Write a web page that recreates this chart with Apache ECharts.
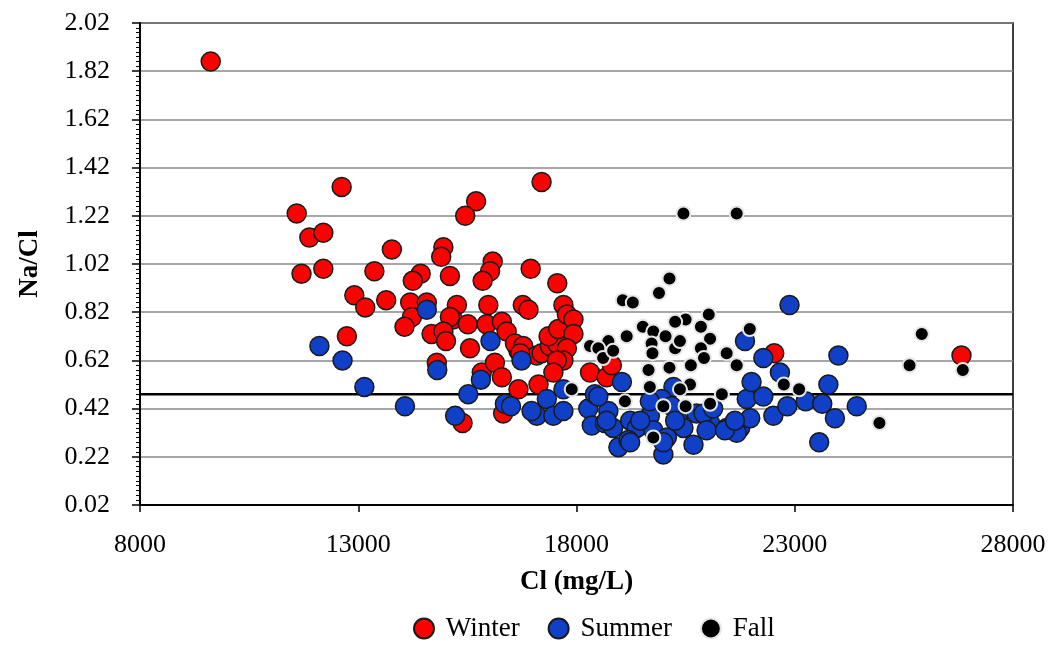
<!DOCTYPE html>
<html>
<head>
<meta charset="utf-8">
<script src="https://cdn.jsdelivr.net/npm/echarts@6/dist/echarts.min.js"></script>
<style>
html,body{margin:0;padding:0;background:#fff;}
#chart{width:1059px;height:645px;}
</style>
</head>
<body>
<div id="chart"></div>
<script>
// ---- data ----
const winterCl = [9620,12620,17200,11590,15700,15450,11880,12200,11700,12200,13770,13370,14950,14900,15100,14430,14250,16080,16020,15850,16950,17560,12910,13160,13640,14190,14570,14230,14060,15260,15170,15100,14680,14950,15010,15510,15560,15980,15940,16290,16400,16630,16670,16590,16780,16770,16900,17090,17200,17390,17550,17360,17580,17700,17780,17930,17930,17780,17700,17550,12740,14800,15390,15830,16130,16290,16670,16320,17130,17470,18310,18690,18810,22530,26820,16710];
const winterNaCl = [1.86,1.34,1.36,1.23,1.28,1.22,1.13,1.15,0.98,1.00,1.08,0.99,1.09,1.05,0.97,0.98,0.95,1.03,0.99,0.95,1.00,0.94,0.89,0.84,0.87,0.86,0.86,0.80,0.76,0.85,0.79,0.80,0.73,0.74,0.70,0.77,0.67,0.85,0.77,0.78,0.74,0.68,0.66,0.69,0.68,0.85,0.83,0.64,0.65,0.68,0.69,0.72,0.75,0.85,0.81,0.79,0.73,0.67,0.62,0.62,0.72,0.61,0.36,0.57,0.61,0.55,0.50,0.40,0.52,0.57,0.57,0.55,0.60,0.65,0.64,0.65];

const summerCl = [14570,16030,12110,12640,13140,14070,14810,15220,15520,15810,16740,16360,16500,17090,17320,17470,17700,16970,17700,18270,18350,18420,19040,18650,18730,18840,18960,19230,19380,19190,19680,19760,19990,20070,20220,20330,20450,20680,20750,21060,21440,21750,21980,21900,22280,22510,22280,21860,22010,20910,19950,20180,22880,22660,22830,23250,23630,23920,24420,24000,23770,23560,20980,21670,19230,19460,19680,19990,20260,21130,21400,21630,18690,18500];
const summerNaCl = [0.83,0.70,0.68,0.62,0.51,0.43,0.58,0.39,0.48,0.54,0.62,0.44,0.43,0.39,0.46,0.39,0.41,0.41,0.50,0.42,0.35,0.48,0.53,0.36,0.41,0.34,0.26,0.37,0.34,0.29,0.39,0.33,0.23,0.30,0.51,0.37,0.34,0.27,0.40,0.36,0.34,0.34,0.38,0.46,0.47,0.39,0.63,0.70,0.53,0.40,0.46,0.43,0.85,0.57,0.43,0.45,0.44,0.38,0.43,0.64,0.52,0.28,0.33,0.32,0.28,0.37,0.45,0.28,0.37,0.42,0.33,0.37,0.37,0.47];

const fallCl = [20450,21670,20130,19890,19060,19290,21030,20500,20260,20850,19520,19760,20040,19150,21060,21970,18730,18310,18500,18610,18840,19720,20260,19740,20370,21440,21670,20850,20920,20620,20130,19650,20600,19680,17890,19110,19990,20500,21060,21330,19760,20370,22750,23100,25910,25630,26850,24940];
const fallNaCl = [1.23,1.23,0.96,0.90,0.87,0.86,0.81,0.79,0.78,0.76,0.76,0.74,0.72,0.72,0.71,0.75,0.70,0.68,0.67,0.63,0.66,0.69,0.67,0.65,0.70,0.65,0.60,0.67,0.63,0.60,0.59,0.58,0.52,0.51,0.50,0.45,0.43,0.43,0.44,0.48,0.30,0.50,0.52,0.50,0.73,0.60,0.58,0.36];

const refLineCl = [8000, 28000];
const refLineNaCl = [0.48, 0.48];

const seriesNames = ['Winter', 'Summer', 'Fall'];

function zip(a, b) { return a.map((v, i) => [v, b[i]]); }

const serif = '"Liberation Serif", "DejaVu Serif", serif';
const chart = echarts.init(document.getElementById('chart'));
chart.setOption({
  animation: false,
  backgroundColor: '#fff',
  textStyle: { fontFamily: serif },
  grid: { left: 140, right: 46, top: 23, bottom: 140, show: true, borderColor: '#000', borderWidth: 1.5 },
  legend: {
    data: seriesNames,
    top: 610,
    left: 408,
    itemWidth: 20,
    itemHeight: 20,
    itemGap: 28,
    formatter: n => ' ' + n,
    textStyle: { fontFamily: serif, fontSize: 27, color: '#000' }
  },
  xAxis: {
    type: 'value',
    min: 8000, max: 28000, interval: 5000,
    name: 'Cl (mg/L)',
    nameLocation: 'middle',
    nameGap: 64,
    nameTextStyle: { fontFamily: serif, fontSize: 27, fontWeight: 'bold', color: '#000' },
    axisLine: { lineStyle: { color: '#000', width: 2 } },
    axisTick: { show: true, length: 7, lineStyle: { color: '#000', width: 1.5 } },
    axisLabel: { fontFamily: serif, fontSize: 26, color: '#000', margin: 27,
      formatter: v => String(Math.round(v)) },
    splitLine: { show: false }
  },
  yAxis: {
    type: 'value',
    min: 0.02, max: 2.02, interval: 0.2,
    name: 'Na/Cl',
    nameLocation: 'middle',
    nameGap: 96,
    nameRotate: 90,
    nameTextStyle: { fontFamily: serif, fontSize: 27, fontWeight: 'bold', color: '#000' },
    axisLine: { lineStyle: { color: '#000', width: 2 } },
    axisTick: { show: true, length: 8, lineStyle: { color: '#000', width: 1.5 } },
    minorTick: { show: true, splitNumber: 10, length: 4, lineStyle: { color: '#000', width: 1 } },
    axisLabel: { fontFamily: serif, fontSize: 26, color: '#000', margin: 30,
      formatter: v => (Math.round(v * 100) / 100).toFixed(2) },
    splitLine: { show: true, lineStyle: { color: '#8a8a8a', width: 1.5 } }
  },
  series: [
    {
      name: 'Winter', type: 'scatter', z: 3,
      data: zip(winterCl, winterNaCl),
      symbol: 'circle', symbolSize: 19,
      itemStyle: { color: '#ff0000', borderColor: '#1a1a1a', borderWidth: 1.5, opacity: 1 }
    },
    {
      name: 'Summer', type: 'scatter', z: 4,
      data: zip(summerCl, summerNaCl),
      symbol: 'circle', symbolSize: 19,
      itemStyle: { color: '#1040c8', borderColor: '#1a1a1a', borderWidth: 1.5, opacity: 1 }
    },
    {
      name: 'Fall', type: 'scatter', z: 5,
      data: zip(fallCl, fallNaCl),
      symbol: 'circle', symbolSize: 14,
      itemStyle: { color: '#000000', borderColor: '#e6e6e6', borderWidth: 2, opacity: 1 }
    },
    {
      name: 'ref', type: 'line', z: 2, silent: true,
      data: zip(refLineCl, refLineNaCl),
      symbol: 'none',
      lineStyle: { color: '#000', width: 2.5 }
    }
  ]
});
</script>
</body>
</html>
